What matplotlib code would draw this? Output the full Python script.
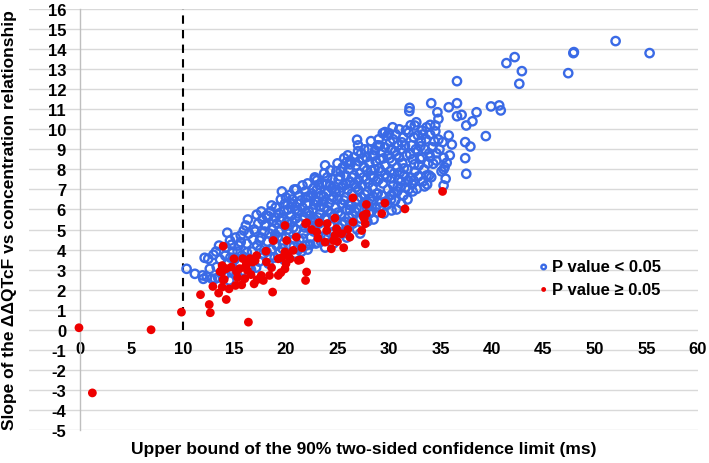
import matplotlib
matplotlib.use('Agg')
import matplotlib.pyplot as plt

plt.rcParams['font.family'] = ['Liberation Sans', 'DejaVu Sans']
plt.rcParams['font.weight'] = 'bold'
plt.rcParams['axes.unicode_minus'] = False

# P value < 0.05 (open blue circles)
blue_x = [10.35, 11.15, 11.9, 11.97, 12.1, 12.45, 12.95, 12.6, 13.1, 13.27,
          12.3, 12.8, 13.4, 13.6, 13.2, 13.8, 13.5, 14.3, 14.56, 14.7,
          14.5, 14.1, 14.4, 14.8, 14.2, 14.9, 14.6, 14.0, 15.9, 15.6,
          15.1, 15.3, 15.5, 15.2, 15.7, 15.4, 15.8, 15.0, 15.6, 16.1,
          16.4, 16.2, 16.7, 16.0, 16.5, 16.8, 16.3, 16.9, 16.6, 16.2,
          17.15, 17.3, 17.0, 17.6, 17.2, 17.8, 17.4, 17.7, 17.9, 17.1,
          17.5, 17.6, 18.1, 18.3, 18.8, 18.0, 18.4, 18.2, 18.6, 18.9,
          18.5, 18.7, 18.1, 18.3, 18.8, 18.6, 18.95, 19.6, 19.0, 19.3,
          19.1, 19.5, 19.2, 19.7, 19.4, 19.8, 19.9, 19.6, 19.3, 19.1,
          19.8, 19.5, 20.4, 20.55, 20.0, 20.2, 20.5, 20.1, 20.7, 20.3,
          20.8, 20.4, 20.9, 20.6, 20.9, 20.2, 20.6, 20.0, 20.8, 21.0,
          21.3, 21.1, 21.6, 21.2, 21.8, 21.4, 21.0, 21.7, 21.3, 21.9,
          21.5, 21.9, 21.6, 21.2, 21.8, 21.85, 22.65, 22.1, 22.4, 22.0,
          22.6, 22.3, 22.8, 22.2, 22.7, 22.4, 22.9, 22.1, 22.5, 22.9,
          22.6, 22.2, 22.8, 23.0, 23.2, 23.0, 23.4, 23.1, 23.7, 23.3,
          23.8, 23.2, 23.6, 23.9, 23.4, 23.8, 23.5, 23.9, 23.6, 23.1,
          23.7, 23.8, 24.9, 23.95, 24.0, 24.3, 24.1, 24.6, 24.2, 24.8,
          24.4, 24.9, 24.3, 24.7, 24.1, 24.6, 24.5, 24.8, 24.4, 24.0,
          25.65, 25.9, 25.0, 25.3, 25.1, 25.6, 25.2, 25.8, 25.4, 25.9,
          25.3, 25.7, 25.1, 25.5, 25.9, 25.5, 25.8, 25.4, 25.0, 26.9,
          27.0, 26.0, 26.3, 26.1, 26.6, 26.2, 26.8, 26.4, 26.9, 26.3,
          26.7, 26.1, 26.5, 26.9, 26.6, 26.8, 26.4, 26.0, 26.2, 27.0,
          27.3, 27.1, 27.6, 27.2, 27.8, 27.4, 27.9, 27.3, 27.7, 27.1,
          27.5, 27.9, 27.2, 27.6, 27.8, 27.5, 27.0, 28.25, 28.6, 28.8,
          28.15, 28.0, 28.4, 28.1, 28.6, 28.2, 28.8, 28.4, 28.9, 28.3,
          28.7, 28.1, 28.5, 28.9, 28.7, 28.5, 28.0, 28.3, 29.1, 29.4,
          29.8, 29.0, 29.3, 29.1, 29.6, 29.2, 29.8, 29.4, 29.9, 29.3,
          29.7, 29.1, 29.5, 29.9, 29.6, 29.0, 30.35, 30.1, 30.25, 30.25,
          30.75, 31.2, 30.0, 30.4, 30.2, 30.7, 30.3, 30.8, 30.5, 30.9,
          30.4, 30.8, 30.2, 30.6, 30.9, 30.6, 30.1, 31.1, 31.55, 31.9,
          31.9, 31.0, 31.4, 31.2, 31.7, 31.3, 31.8, 31.5, 31.2, 31.6,
          31.4, 31.8, 31.0, 32.0, 31.97, 32.5, 32.7, 32.4, 32.1, 32.4,
          32.2, 32.8, 32.3, 32.9, 32.5, 32.1, 32.3, 32.8, 32.6, 33.2,
          33.3, 33.0, 33.65, 33.7, 33.65, 33.1, 33.5, 33.2, 33.8, 33.4,
          33.9, 33.3, 33.6, 33.9, 34.0, 34.5, 34.5, 34.0, 34.8, 34.3,
          34.1, 34.0, 34.6, 34.1, 34.7, 34.8, 34.2, 34.6, 34.4, 34.9,
          35.2, 35.8, 35.3, 35.6, 35.4, 35.1, 35.5, 35.3, 35.8, 36.1,
          36.6, 36.6, 36.6, 37.05, 37.4, 37.9, 37.4, 37.5, 37.5, 38.1,
          38.5, 39.4, 39.9, 40.7, 40.85, 41.4, 42.2, 42.9, 42.65, 47.4,
          47.9, 47.95, 52.0, 55.3, 29.6, 26.2, 24.3, 22.8, 35.3, 35.9,
          17.45, 17.95, 18.45, 18.95, 19.45, 19.65, 20.15, 20.35, 20.75, 20.95,
          21.15, 21.45, 21.65, 21.95, 22.15, 22.35, 22.55, 22.75, 23.05, 23.25,
          23.45, 23.65, 23.85, 24.05, 24.25, 24.45, 24.65, 24.85, 25.05, 25.25,
          25.45, 25.65, 25.85, 26.05, 26.25, 26.45, 26.65, 26.85, 27.05, 27.25,
          27.45, 27.65, 27.85, 28.05, 28.25, 28.45, 28.65, 28.85, 29.05, 29.25,
          29.45, 29.65, 29.85, 30.05, 30.25, 30.45, 30.65, 30.85, 31.05, 31.25,
          31.45, 31.65, 31.85, 32.05, 32.25, 32.45, 32.65, 32.85, 33.05, 33.45]
blue_y = [3.04, 2.79, 2.71, 2.54, 3.59, 3.54, 3.74, 3.04, 2.54, 3.13,
          2.65, 2.55, 2.6, 3.5, 3.9, 2.95, 4.2, 4.84, 4.45, 4.24,
          2.46, 3.7, 3.3, 3.9, 4.1, 2.9, 3.6, 2.7, 4.95, 4.37,
          4.6, 3.9, 3.3, 2.8, 3.7, 4.2, 2.95, 3.5, 4.7, 5.2,
          4.8, 4.3, 3.9, 3.6, 3.2, 4.5, 5.5, 5.0, 3.0, 3.85,
          5.74, 5.3, 4.9, 4.6, 4.2, 3.8, 3.4, 5.5, 4.9, 3.1,
          4.0, 5.9, 5.7, 5.67, 5.45, 5.2, 4.8, 4.4, 4.0, 3.6,
          5.9, 5.0, 3.9, 3.3, 4.5, 6.2, 5.6, 6.9, 6.1, 5.8,
          5.3, 5.0, 4.6, 4.3, 3.9, 3.5, 6.3, 5.6, 4.9, 4.2,
          5.9, 6.5, 6.73, 6.28, 6.6, 6.0, 5.7, 5.4, 5.1, 4.8,
          4.5, 4.2, 3.8, 6.5, 6.0, 5.0, 5.4, 4.6, 7.0, 7.0,
          6.7, 6.3, 6.1, 5.8, 5.6, 5.3, 5.0, 4.8, 4.5, 4.2,
          3.9, 6.6, 7.2, 4.0, 5.1, 6.9, 7.06, 7.3, 6.6, 6.3,
          6.0, 5.7, 5.5, 5.2, 4.9, 4.6, 4.3, 4.0, 6.8, 6.4,
          5.2, 5.9, 7.6, 7.45, 7.23, 7.0, 6.7, 6.4, 6.1, 5.8,
          5.6, 5.3, 5.0, 4.7, 4.4, 4.1, 7.3, 6.8, 6.4, 5.6,
          7.8, 8.2, 7.9, 7.28, 7.6, 7.2, 6.9, 6.6, 6.3, 6.1,
          5.8, 5.5, 5.2, 4.9, 4.6, 4.3, 7.5, 7.0, 6.5, 5.5,
          8.56, 8.36, 8.3, 7.9, 7.5, 7.2, 6.9, 6.6, 6.3, 6.0,
          5.7, 5.4, 5.1, 4.8, 4.6, 8.1, 7.7, 7.1, 6.5, 9.48,
          8.91, 8.7, 8.4, 8.0, 7.7, 7.4, 7.1, 6.8, 6.5, 6.2,
          5.9, 5.6, 5.3, 5.0, 8.6, 8.2, 7.6, 7.0, 6.0, 9.2,
          8.8, 8.4, 8.1, 7.8, 7.5, 7.2, 6.9, 6.6, 6.3, 6.0,
          5.7, 5.4, 4.8, 9.0, 8.6, 7.6, 7.0, 9.41, 8.69, 6.78,
          6.53, 9.0, 8.7, 8.3, 8.0, 7.7, 7.4, 7.1, 6.8, 6.4,
          6.1, 5.8, 5.5, 9.2, 8.4, 7.6, 7.3, 5.9, 9.19, 9.8,
          9.66, 9.5, 8.9, 8.5, 8.2, 7.9, 7.6, 7.3, 7.0, 6.7,
          6.4, 6.1, 5.8, 8.7, 9.1, 7.5, 10.1, 9.36, 6.73, 5.95,
          6.0, 6.3, 9.8, 9.5, 9.0, 8.7, 8.4, 8.1, 7.8, 7.5,
          7.2, 6.9, 6.5, 6.45, 9.2, 8.9, 7.9, 7.11, 9.19, 9.83,
          7.0, 10.0, 9.6, 9.0, 8.7, 8.3, 8.0, 7.7, 7.4, 7.1,
          6.7, 6.5, 8.6, 11.07, 10.9, 10.19, 7.03, 7.45, 10.2, 9.6,
          9.2, 8.9, 8.5, 8.2, 7.9, 7.6, 6.9, 9.7, 9.0, 9.94,
          9.74, 8.53, 7.7, 7.25, 10.1, 9.4, 9.0, 8.6, 8.3, 8.0,
          7.7, 7.4, 9.5, 8.8, 10.22, 10.19, 9.9, 9.74, 9.49, 8.28,
          7.61, 8.61, 8.44, 11.3, 10.85, 10.52, 9.1, 8.8, 9.4, 9.0,
          9.36, 9.69, 8.58, 8.33, 8.11, 7.9, 7.53, 7.2, 11.1, 9.24,
          10.65, 11.3, 12.4, 10.72, 9.36, 9.14, 8.56, 7.78, 10.19, 10.4,
          10.85, 9.66, 11.14, 11.19, 10.94, 13.3, 13.6, 12.9, 12.27, 12.8,
          13.8, 13.85, 14.4, 13.8, 9.86, 8.36, 7.95, 7.53, 8.0, 8.7,
          4.45, 5.25, 3.65, 4.75, 5.45, 4.05, 6.25, 5.25, 4.15, 5.55,
          5.95, 6.45, 4.55, 5.85, 6.65, 4.25, 5.45, 6.25, 4.35, 6.15,
          5.05, 6.65, 7.25, 5.95, 4.85, 7.05, 5.65, 6.85, 5.85, 7.65,
          5.25, 6.45, 7.25, 6.25, 8.25, 5.75, 7.25, 6.05, 7.45, 5.55,
          8.55, 6.75, 7.95, 6.15, 7.95, 6.65, 8.95, 5.85, 8.05, 6.35,
          8.55, 7.75, 6.25, 8.55, 7.55, 6.85, 9.75, 7.15, 7.85, 9.35,
          8.05, 9.95, 7.45, 8.75, 7.25, 8.25, 10.35, 7.65, 9.15, 7.15]

# P value >= 0.05 (filled red circles)
red_x = [-0.1, 1.2, 6.9, 9.85, 11.7, 12.55, 12.65, 13.46, 14.2, 12.9,
         13.9, 13.8, 13.76, 14.0, 13.8, 14.47, 14.95, 14.7, 15.1, 15.7,
         16.1, 16.25, 16.35, 16.9, 16.77, 17.6, 17.8, 18.06, 18.1, 18.4,
         18.7, 18.77, 19.25, 19.25, 19.9, 20.07, 19.9, 19.9, 20.4, 20.7,
         21.0, 21.2, 21.9, 22.0, 21.9, 26.5, 27.8, 24.75, 23.2, 22.0,
         21.55, 23.0, 23.1, 23.95, 24.9, 24.6, 24.4, 25.6, 25.4, 26.2,
         26.5, 27.35, 27.7, 27.6, 27.8, 27.7, 35.2, 29.6, 31.55, 29.3,
         27.5, 24.75, 23.8, 21.4, 17.15, 16.2, 15.3, 15.5, 16.0, 16.6,
         17.2, 17.0, 15.8, 14.2, 13.6, 19.6, 20.2, 20.0, 18.6, 15.2,
         16.5, 19.5, 13.9, 22.5, 24.0, 25.0, 26.0]
red_y = [0.1, -3.15, 0.0, 0.88, 1.75, 1.26, 0.85, 1.83, 1.51, 2.16,
         4.17, 3.2, 2.88, 2.51, 2.13, 2.04, 3.54, 3.13, 2.21, 2.24,
         3.2, 2.96, 0.38, 2.29, 3.38, 2.71, 2.46, 3.92, 3.38, 2.71,
         1.88, 4.45, 3.54, 2.71, 5.2, 4.45, 3.88, 3.04, 3.54, 3.96,
         4.62, 3.46, 5.29, 2.88, 2.46, 6.58, 6.25, 5.57, 5.34, 5.34,
         4.09, 4.87, 4.57, 4.95, 5.04, 4.45, 4.04, 4.09, 4.79, 4.62,
         5.37, 4.95, 5.29, 5.54, 5.79, 4.29, 6.9, 6.32, 6.03, 5.79,
         5.7, 4.7, 4.37, 3.49, 3.7, 3.29, 2.6, 3.05, 2.55, 2.75,
         2.5, 3.45, 3.55, 3.05, 2.9, 3.6, 3.7, 3.3, 3.1, 2.9,
         3.55, 2.85, 2.5, 5.0, 5.3, 4.4, 5.0]

x_ticks = [0, 5, 10, 15, 20, 25, 30, 35, 40, 45, 50, 55, 60]
y_ticks = list(range(-5, 17))

blue = '#3A6AE6'
red = '#EE0000'

fig = plt.figure(figsize=(7.09, 4.64), dpi=100)
ax = fig.add_axes([28.5 / 709, 1 - 431 / 464, 669.5 / 709, 421 / 464])
ax.set_xlim(-5, 60)
ax.set_ylim(-5, 16)

# horizontal gridlines
for v in y_ticks:
    ax.axhline(v, color='#D9D9D9', lw=1, zorder=0)

# y axis crosses at x = 0, x axis labels sit under y = 0
ax.spines['left'].set_position(('data', 0))
ax.spines['left'].set_color('#BFBFBF')
ax.spines['left'].set_linewidth(1)
ax.spines['bottom'].set_position(('data', 0))
ax.spines['bottom'].set_visible(False)
ax.spines['top'].set_visible(False)
ax.spines['right'].set_visible(False)

ax.set_xticks(x_ticks)
ax.set_yticks(y_ticks)
ax.tick_params(axis='both', length=0, labelsize=12)
ax.tick_params(axis='x', pad=8)
ax.tick_params(axis='y', pad=10)
for lab in ax.get_xticklabels() + ax.get_yticklabels():
    lab.set_fontweight('bold')

# 10 ms threshold
ax.plot([10, 10], [0, 16], color='black', lw=1.5, ls=(0, (4, 3)), zorder=1)

ax.scatter(blue_x, blue_y, s=36, facecolors='none', edgecolors=blue,
           linewidths=1.7, zorder=2, label='P value < 0.05')
ax.scatter(red_x, red_y, s=40, color=red, edgecolors='none', zorder=3,
           label='P value \u2265 0.05')

leg = ax.legend(loc='upper left', bbox_to_anchor=(527 / 709, 1 - 252 / 464),
                bbox_transform=fig.transFigure, frameon=False, fontsize=12,
                handletextpad=0.0, handlelength=1.0, labelspacing=0.45,
                borderpad=0, markerscale=0.55)
for t in leg.get_texts():
    t.set_fontweight('bold')

fig.text(10 / 709, 1 - 220 / 464,
         'Slope of the \u0394\u0394QTcF vs concentration relationship',
         rotation=90, ha='center', va='center', fontsize=12.5, fontweight='bold')
fig.text(364 / 709, 1 - 450 / 464,
         'Upper bound of the 90% two-sided confidence limit (ms)',
         ha='center', va='center', fontsize=12.5, fontweight='bold')

fig.savefig('out.png', dpi=100)
